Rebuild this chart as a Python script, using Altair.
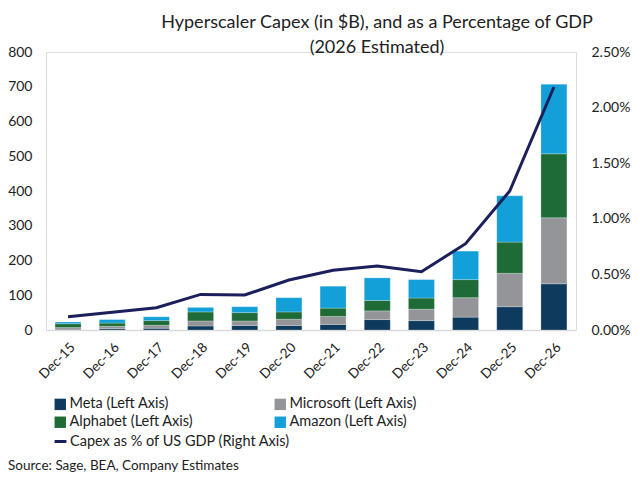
import altair as alt
import pandas as pd

years = ["Dec-15", "Dec-16", "Dec-17", "Dec-18", "Dec-19", "Dec-20",
         "Dec-21", "Dec-22", "Dec-23", "Dec-24", "Dec-25", "Dec-26"]
meta = [2, 4, 5, 11.5, 13, 13, 16, 30, 27, 37, 67, 133]
microsoft = [5, 6.6, 8.6, 14.5, 13, 18, 23, 25, 33, 56, 96, 190]
alphabet = [11, 9.4, 13.4, 26, 24, 21, 24, 30, 32, 52, 90, 184]
amazon = [5, 10, 11, 13, 17, 41, 63, 65, 53, 82, 133, 200]
gdp_pct = [0.0012, 0.0016, 0.0020, 0.0032, 0.00315, 0.0045,
           0.00537, 0.00575, 0.00524, 0.00776, 0.0125, 0.02185]

series_names = ["Meta (Left Axis)", "Microsoft (Left Axis)",
                "Alphabet (Left Axis)", "Amazon (Left Axis)"]
series_colors = ["#0E3A5D", "#939598", "#1E6B37", "#139FD7"]
# legend fills column by column: order so that rows read Meta/Microsoft, Alphabet/Amazon
legend_order = [0, 2, 1, 3]
legend_names = [series_names[i] for i in legend_order]
legend_colors = [series_colors[i] for i in legend_order]
line_name = "Capex as % of US GDP (Right Axis)"

rows = []
for i, y in enumerate(years):
    for k, (name, vals) in enumerate(zip(series_names, [meta, microsoft, alphabet, amazon])):
        rows.append({"year": y, "company": name, "capex": vals[i], "ord": k})
bars_df = pd.DataFrame(rows)
line_df = pd.DataFrame({"year": years, "pct": gdp_pct, "series": [line_name] * len(years)})

FONT = "Lato"

x_enc = alt.X("year:N", sort=years, title=None,
              scale=alt.Scale(paddingInner=0.42, paddingOuter=0.21),
              axis=alt.Axis(labelAngle=-45, labelFontSize=13.5, labelColor="#222",
                            labelFont=FONT, ticks=False, domainColor="#D9D9D9",
                            domainWidth=1.5, labelPadding=10))

bars = alt.Chart(bars_df).mark_bar(size=26, stroke="white", strokeWidth=0.4, strokeOpacity=0.6).encode(
    x=x_enc,
    y=alt.Y("sum(capex):Q", title=None,
            scale=alt.Scale(domain=[0, 800]),
            axis=alt.Axis(values=[0, 100, 200, 300, 400, 500, 600, 700, 800],
                          labelFontSize=14, labelFont=FONT, labelColor="#222",
                          ticks=False, domain=False, grid=False, labelPadding=14)),
    color=alt.Color("company:N",
                    scale=alt.Scale(domain=legend_names, range=legend_colors),
                    legend=alt.Legend(title=None, orient="none", legendX=7, legendY=345,
                                      columns=2, columnPadding=79, rowPadding=3,
                                      symbolType="square", symbolSize=130,
                                      symbolStrokeWidth=0, labelFontSize=14.5,
                                      labelFont=FONT, labelColor="#222", labelOffset=2,
                                      labelLimit=300)),
    order=alt.Order("ord:Q", sort="ascending"),
)

line = alt.Chart(line_df).mark_line(strokeWidth=3).encode(
    x=alt.X("year:N", sort=years),
    y=alt.Y("pct:Q", title=None,
            scale=alt.Scale(domain=[0, 0.025]),
            axis=alt.Axis(orient="right", format=".2%",
                          values=[0, 0.005, 0.01, 0.015, 0.02, 0.025],
                          labelFontSize=14, labelFont=FONT, labelColor="#222",
                          ticks=False, domain=False, grid=False, labelPadding=15)),
    color=alt.Color("series:N",
                    scale=alt.Scale(domain=[line_name], range=["#1B1F5C"]),
                    legend=alt.Legend(title=None, orient="none", legendX=7, legendY=382,
                                      symbolType="stroke", symbolStrokeWidth=3,
                                      symbolSize=140, labelFontSize=14.5,
                                      labelFont=FONT, labelColor="#222", labelOffset=2,
                                      labelLimit=400)),
)

source = alt.Chart(pd.DataFrame({"t": ["Source: Sage, BEA, Company Estimates"]})).mark_text(
    align="left", baseline="middle", fontSize=13.5, font=FONT, color="#222"
).encode(x=alt.value(-38), y=alt.value(414), text="t:N")

chart = alt.layer(bars, line, source).resolve_scale(
    y="independent", color="independent"
).properties(
    width=530, height=278,
    autosize=alt.AutoSizeParams(type="none"),
    padding={"left": 38, "top": 44, "right": 56, "bottom": 142},
    title=alt.TitleParams(
        text=["Hyperscaler Capex (in $B), and as a Percentage of GDP", "(2026 Estimated)"],
        fontSize=18, font=FONT, fontWeight="normal", color="#222",
        anchor="middle", dx=66, offset=-12, lineHeight=25),
).configure_view(stroke=None).configure(background="white")

chart.save("out.html", embed_options={"renderer": "svg", "actions": False})
